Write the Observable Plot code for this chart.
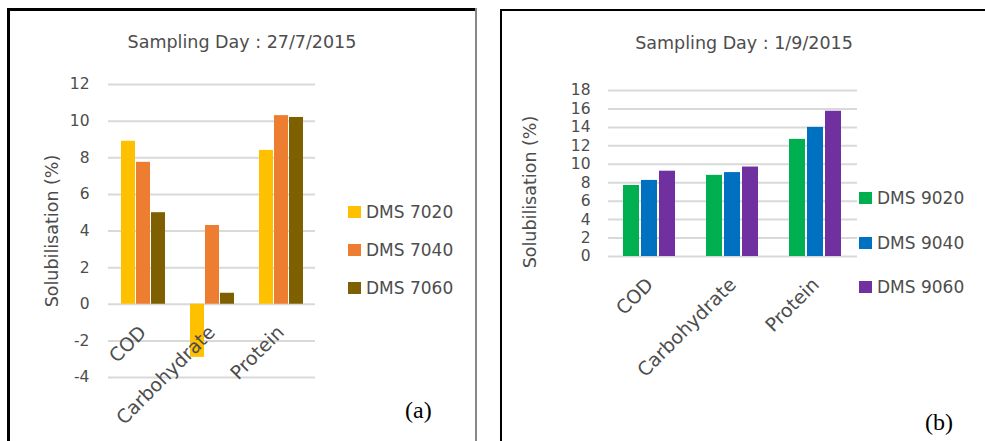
<!DOCTYPE html>
<html><head><meta charset="utf-8">
<script src="https://cdn.jsdelivr.net/npm/d3@7"></script>
<script src="https://cdn.jsdelivr.net/npm/@observablehq/plot@0.6"></script>
<style>
body{margin:0;background:#fff;}
#root{position:relative;width:985px;height:441px;overflow:hidden;font-family:"DejaVu Sans",sans-serif;color:#4d4d4d;}
.abs{position:absolute;white-space:nowrap;}
.title{font-size:17.5px;transform:translate(-50%,-50%);}
.ylab{font-size:17.5px;transform:translate(-50%,-50%) rotate(-90deg);}
.leg{display:flex;align-items:center;font-size:17px;transform:translateY(-50%);}
.sw{width:13px;height:12px;margin-right:5px;}
.tag{font-family:"Liberation Serif",serif;font-size:24px;color:#000;transform:translateY(-50%);}
</style></head><body><div id="root"></div>
<script>
const categories = ["COD", "Carbohydrate", "Protein"];

const seriesA = ["DMS 7020", "DMS 7040", "DMS 7060"];
const colorsA = ["#FFC000", "#ED7D31", "#7F6000"];
const valuesA7020 = [8.9, -2.9, 8.4];
const valuesA7040 = [7.75, 4.3, 10.3];
const valuesA7060 = [5.0, 0.6, 10.2];
const ticksA = [-4, -2, 0, 2, 4, 6, 8, 10, 12];
const titleA = "Sampling Day : 27/7/2015";

const seriesB = ["DMS 9020", "DMS 9040", "DMS 9060"];
const colorsB = ["#00B050", "#0070C0", "#7030A0"];
const valuesB9020 = [7.7, 8.8, 12.7];
const valuesB9040 = [8.25, 9.1, 14.0];
const valuesB9060 = [9.25, 9.7, 15.75];
const ticksB = [0, 2, 4, 6, 8, 10, 12, 14, 16, 18];
const titleB = "Sampling Day : 1/9/2015";

const yLabel = "Solubilisation (%)";

function rows(series, valueLists) {
  const out = [];
  categories.forEach((c, i) => series.forEach((s, j) => out.push({category: c, series: s, value: valueLists[j][i]})));
  return out;
}

function chart(cfg) {
  return Plot.plot({
    width: cfg.width, height: cfg.height,
    marginLeft: cfg.ml, marginRight: cfg.mr, marginTop: cfg.mt, marginBottom: cfg.mb,
    style: {fontFamily: "DejaVu Sans", background: "transparent", overflow: "visible"},
    fx: {domain: categories, paddingInner: 0, paddingOuter: 0, axis: null, label: null},
    x: {domain: cfg.series, paddingInner: 0.1, paddingOuter: 0.82, axis: null},
    y: {domain: cfg.domain, axis: null},
    color: {domain: cfg.series, range: cfg.colors},
    marks: [
      Plot.gridY(cfg.ticks, {stroke: "#d9d9d9", strokeOpacity: 1, strokeWidth: 2}),
      Plot.barY(cfg.data, {fx: "category", x: "series", y: "value", fill: "series"}),
      Plot.axisY(cfg.ticks, {tickSize: 0, tickPadding: cfg.tp, fontSize: 15.5, fill: "#4d4d4d", label: null, tickFormat: d => String(d)}),
      Plot.text(categories, {fx: d => d, y: d => 0, text: d => d, rotate: -45, textAnchor: "end", lineAnchor: "middle", dy: 25, dx: 0, fontSize: 19, fill: "#4d4d4d"})
    ]
  });
}

const root = document.getElementById("root");
function add(html, cls, left, top) {
  const d = document.createElement("div");
  d.className = "abs " + cls;
  d.style.left = left + "px"; d.style.top = top + "px";
  if (typeof html === "string") d.textContent = html; else d.appendChild(html);
  root.appendChild(d);
  return d;
}
function box(left, top, w, h, css) {
  const d = document.createElement("div");
  d.className = "abs";
  Object.assign(d.style, {left: left + "px", top: top + "px", width: w + "px", height: h + "px"}, css);
  root.appendChild(d);
}

// panel borders
box(7, 8, 3, 440, {background: "#000"});
box(7, 8, 470, 3, {background: "#000"});
box(475, 8, 2, 440, {background: "#888"});
box(500, 9, 2, 440, {background: "#000"});
box(500, 9, 490, 2, {background: "#000"});

// panel (a)
const svgA = chart({width: 490, height: 441, ml: 107, mr: 175, mt: 84, mb: 64, series: seriesA, colors: colorsA,
  domain: [-4, 12], ticks: ticksA, tp: 19, data: rows(seriesA, [valuesA7020, valuesA7040, valuesA7060])});
add(svgA, "", 0, 0);
add(titleA, "title", 242, 42);
add(yLabel, "ylab", 52, 231);
[212, 250, 288].forEach((y, i) => {
  const d = add("", "leg", 348, y);
  const s = document.createElement("span"); s.className = "sw"; s.style.background = colorsA[i];
  d.appendChild(s); d.appendChild(document.createTextNode(seriesA[i]));
});
add("(a)", "tag", 405, 410);

// panel (b)
const svgB = chart({width: 495, height: 441, ml: 118, mr: 128, mt: 90, mb: 185, series: seriesB, colors: colorsB,
  domain: [0, 18], ticks: ticksB, tp: 18, data: rows(seriesB, [valuesB9020, valuesB9040, valuesB9060])});
add(svgB, "", 490, 0);
add(titleB, "title", 744, 43);
add(yLabel, "ylab", 530, 192);
[198, 243, 287].forEach((y, i) => {
  const d = add("", "leg", 859, y);
  const s = document.createElement("span"); s.className = "sw"; s.style.background = colorsB[i];
  d.appendChild(s); d.appendChild(document.createTextNode(seriesB[i]));
});
add("(b)", "tag", 925, 422);
</script></body></html>
